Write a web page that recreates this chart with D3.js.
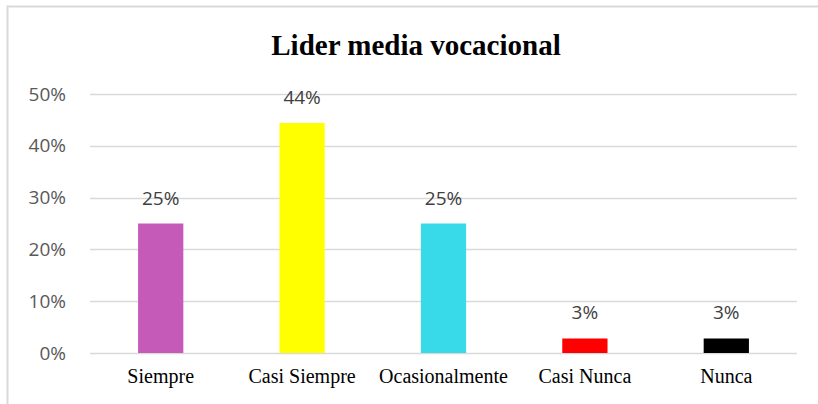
<!DOCTYPE html>
<html>
<head>
<meta charset="utf-8">
<script src="https://cdn.jsdelivr.net/npm/d3@7"></script>
<style>
  body { margin: 0; background: #fff; }
</style>
</head>
<body>
<div id="chart"></div>
<script>
const categories = ['Siempre', 'Casi Siempre', 'Ocasionalmente', 'Casi Nunca', 'Nunca'];
const values = [0.25, 0.444, 0.25, 0.028, 0.028];
const colors = ['#C55AB9', '#FFFF00', '#38D9E8', '#FF0000', '#000000'];
const yTicks = [0, 0.1, 0.2, 0.3, 0.4, 0.5];

const width = 818;
const height = 404;
const margin = { top: 94, right: 21, bottom: 51, left: 90 };
const chartWidth = width - margin.left - margin.right;
const chartHeight = height - margin.top - margin.bottom;

const svg = d3
  .select('#chart')
  .append('svg')
  .attr('width', width)
  .attr('height', height);

// outer frame (top and left edges are visible)
svg
  .append('path')
  .attr('d', `M7.5,${height} V6.5 H${width}`)
  .attr('fill', 'none')
  .attr('stroke', '#d9d9d9')
  .attr('stroke-width', 2);

svg
  .append('text')
  .attr('x', 416)
  .attr('y', 55)
  .attr('text-anchor', 'middle')
  .attr('font-family', '"Liberation Serif", "Times New Roman", serif')
  .attr('font-weight', 'bold')
  .attr('font-size', 29)
  .attr('fill', '#000')
  .text('Lider media vocacional');

const g = svg
  .append('g')
  .attr('transform', `translate(${margin.left},${margin.top})`);

const xScale = d3
  .scaleBand()
  .domain(categories)
  .range([0, chartWidth])
  .paddingInner(0.68)
  .paddingOuter(0.34);

const yScale = d3.scaleLinear().domain([0, 0.5]).range([chartHeight, 0]);

// gridlines
g.append('g')
  .selectAll('line')
  .data(yTicks)
  .enter()
  .append('line')
  .attr('x1', 0)
  .attr('x2', chartWidth)
  .attr('y1', (d) => Math.round(yScale(d)) + 0.5)
  .attr('y2', (d) => Math.round(yScale(d)) + 0.5)
  .attr('stroke', '#d9d9d9')
  .attr('stroke-width', 1.5);

// y axis labels
const yAxis = g
  .append('g')
  .call(d3.axisLeft(yScale).tickValues(yTicks).tickFormat(d3.format('.0%')).tickSize(0).tickPadding(24));
yAxis.select('.domain').remove();
yAxis
  .selectAll('text')
  .attr('font-family', '"Open Sans", sans-serif')
  .attr('font-size', 19)
  .attr('fill', '#595959');

// bars
g.selectAll('.bar')
  .data(values)
  .enter()
  .append('rect')
  .attr('class', 'bar')
  .attr('x', (d, i) => xScale(categories[i]))
  .attr('width', xScale.bandwidth())
  .attr('y', (d) => yScale(d))
  .attr('height', (d) => chartHeight - yScale(d))
  .attr('fill', (d, i) => colors[i]);

// value labels
g.selectAll('.value')
  .data(values)
  .enter()
  .append('text')
  .attr('class', 'value')
  .attr('x', (d, i) => xScale(categories[i]) + xScale.bandwidth() / 2)
  .attr('y', (d) => yScale(d) - 19)
  .attr('text-anchor', 'middle')
  .attr('font-family', '"Open Sans", sans-serif')
  .attr('font-size', 19)
  .attr('fill', '#404040')
  .text((d) => d3.format('.0%')(d));

// x axis labels
const xAxis = g
  .append('g')
  .attr('transform', `translate(0, ${chartHeight})`)
  .call(d3.axisBottom(xScale).tickSize(0).tickPadding(16));
xAxis.select('.domain').remove();
xAxis
  .selectAll('text')
  .attr('font-family', '"Liberation Serif", "Times New Roman", serif')
  .attr('font-size', 20)
  .attr('fill', '#000');
</script>
</body>
</html>
